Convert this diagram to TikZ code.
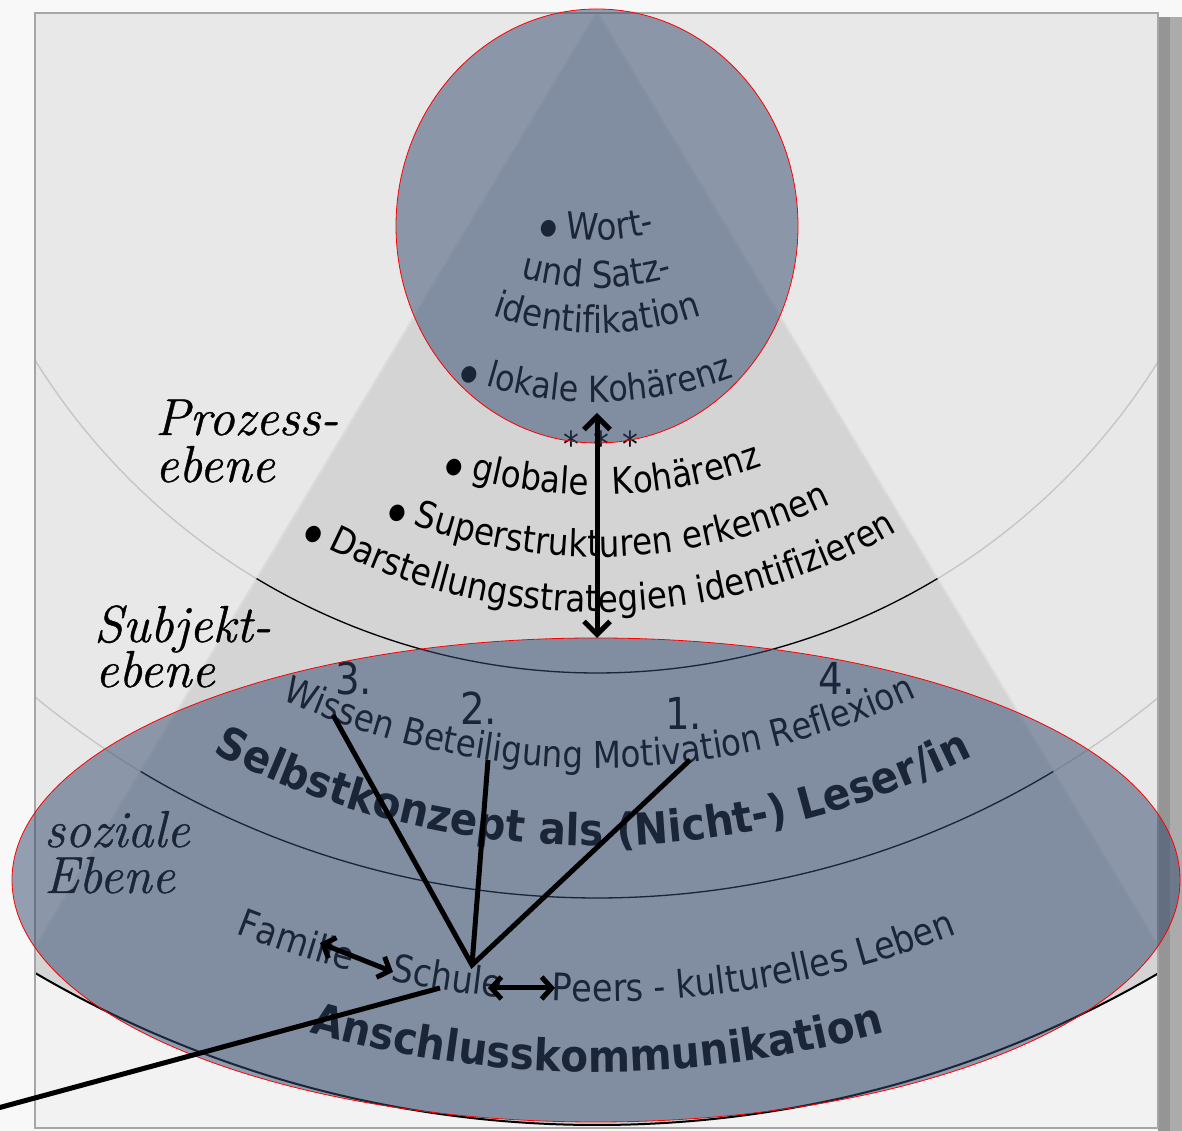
\documentclass[tikz,border=0pt]{standalone}
\usepackage{fontspec}
\usetikzlibrary{decorations.text,arrows.meta}
\newfontfamily\tah[FakeStretch=0.88]{DejaVu Sans}
\newfontfamily\tahB[FakeStretch=0.92]{DejaVu Sans}
\newfontfamily\camb[FakeBold=0.8]{Latin Modern Roman}
\definecolor{bgout}{HTML}{F8F8F8}
\definecolor{panelc}{HTML}{F2F2F2}
\definecolor{diskc}{HTML}{E8E8E8}
\definecolor{tric}{HTML}{D4D4D4}
\definecolor{arcgray}{HTML}{C6C6C6}
\definecolor{edgec}{HTML}{DCDCDC}
\definecolor{ov}{RGB}{51,73,110}
\definecolor{shadowA}{HTML}{959595}
\definecolor{shadowB}{HTML}{ABABAB}
\definecolor{pborder}{HTML}{A6A6A6}
\newcommand\arctxt[4]{\path[decorate,decoration={text along path,text align=center,text={#4}}] (A) ++({270+#2-#3}:#1pt) arc[start angle={270+#2-#3},end angle={270+#2+#3},radius=#1pt];}
\newcommand\bul{{\fontsize{22}{22}\selectfont ●}}
\tikzset{
  edgeline/.style={edgec,line width=2pt},
  conn/.style={black,line width=5pt},
  dbl/.style={black,line width=5pt,{Straight Barb[length=10pt,width=22pt]}-{Straight Barb[length=10pt,width=22pt]}},
  dblbig/.style={black,line width=5pt,{Straight Barb[length=13pt,width=26pt]}-{Straight Barb[length=13pt,width=26pt]}},
  lbl/.style={inner sep=0pt,anchor=base west,font=\camb\fontsize{52}{56}\selectfont\itshape},
  num/.style={inner sep=0pt,anchor=base west,font=\tah\fontsize{44}{48}\selectfont},
  overlay/.style={fill=ov,fill opacity=0.51,draw=red,line width=0.8pt}
}
\begin{document}
\begin{tikzpicture}[x=1pt,y=1pt]
\useasboundingbox (0,0) rectangle (1182,1131);
\fill[bgout] (0,0) rectangle (1182,1131);
% shadow
\fill[shadowB] (1158,0) rectangle (1182,1114);
\fill[shadowA] (1158,0) rectangle (1170,1114);
% panel
\fill[panelc] (35,3) rectangle (1158,1118);
\coordinate (A) at (597,1119);
\begin{scope}
  \clip (35,3) rectangle (1158,1118);
  \fill[diskc] (A) circle[radius=1113pt];
  \fill[tric] (A) -- ++(239:1113pt) arc[start angle=239,end angle=301,radius=1113pt] -- cycle;
  \draw[edgeline] (A) -- ++(239:1113pt);
  \draw[edgeline] (A) -- ++(301:1113pt);
  \draw[arcgray,line width=1.4pt] (A) circle[radius=661pt];
  \draw[arcgray,line width=1.4pt] (A) circle[radius=886pt];
  \draw[black,line width=1.3pt] (A) ++(239:661pt) arc[start angle=239,end angle=301,radius=661pt];
  \draw[black,line width=1.3pt] (A) ++(239:886pt) arc[start angle=239,end angle=301,radius=886pt];
  \draw[black,line width=2pt] (A) circle[radius=1113pt];
\end{scope}
\draw[pborder,line width=1.5pt] (35,3) rectangle (1158,1118);

% left labels
\node[lbl] (proz1) at (155,696) {Prozess-};
\node[lbl] (proz2) at (155,649) {ebene};
\node[lbl] (subj1) at (94,489) {Subjekt-};
\node[lbl] (subj2) at (95,444) {ebene};
\node[lbl] (soz1) at (44,284) {soziale};
\node[lbl] (soz2) at (44,238) {Ebene};

% circle texts
\arctxt{228}{0}{50}{|\tah\fontsize{37}{40}\selectfont|\bul\ Wort-}
\arctxt{276}{0}{50}{|\tah\fontsize{37}{40}\selectfont|und Satz-}
\arctxt{321}{0}{50}{|\tah\fontsize{37}{40}\selectfont|identifikation}
\arctxt{390}{0}{50}{|\tah\fontsize{36}{40}\selectfont|\bul\ lokale Kohärenz}
\node[inner sep=0pt,anchor=base,font=\tah\fontsize{36}{40}\selectfont] (stars) at (601,673) {*\hspace{14pt}*\hspace{14pt}*};

% triangle texts
\arctxt{483}{0.8}{50}{|\tah\fontsize{37}{40}\selectfont|\bul\ globale{\hspace{14pt}} Kohärenz}
\arctxt{545}{1.4}{50}{|\tah\fontsize{37}{40}\selectfont|\bul\ Superstrukturen erkennen}
\arctxt{600}{0.4}{50}{|\tah\fontsize{37}{40}\selectfont|\bul\ Darstellungsstrategien identifizieren}

% ellipse texts
\arctxt{756}{0.2}{50}{|\tah\fontsize{37}{40}\selectfont|Wissen Beteiligung Motivation Reflexion}
\arctxt{834}{-0.3}{50}{|\tahB\bfseries\fontsize{44}{48}\selectfont|Selbstkonzept als (Nicht-) Leser/in}
\arctxt{990}{-17.9}{10}{|\tah\fontsize{38}{40}\selectfont|Familie}
\arctxt{990}{-8.8}{10}{|\tah\fontsize{38}{40}\selectfont|Schule}
\arctxt{990}{9.35}{15}{|\tah\fontsize{38}{40}\selectfont|Peers - kulturelles Leben}
\arctxt{1060}{0}{25}{|\tahB\bfseries\fontsize{44}{48}\selectfont|Anschlusskommunikation}

% numbers
\node[num] (n3) at (335,436) {3.};
\node[num] (n2) at (460,406) {2.};
\node[num] (n1) at (665,401) {1.};
\node[num] (n4) at (818,436) {4.};

% overlays
\path[overlay] (597,905) ellipse[x radius=201pt,y radius=217pt];
\path[overlay] (596,251) ellipse[x radius=584pt,y radius=242pt];

% connectors
\coordinate (arrTop) at (597,718);
\coordinate (arrBot) at (597,493);
\draw[dblbig] (arrTop) -- (arrBot);
\coordinate (hub) at (472,166);
\coordinate (pWissen) at (333,416);
\coordinate (pBeteil) at (488,371);
\coordinate (pMotiv) at (690,371);
\draw[conn] (pWissen) -- (hub) -- (pMotiv);
\draw[conn] (hub) -- (pBeteil);
\coordinate (famR) at (320,188);
\coordinate (schL) at (393,159);
\draw[dbl] (famR) -- (schL);
\coordinate (schR) at (488,143);
\coordinate (peersL) at (555,143);
\draw[dbl] (schR) -- (peersL);
\coordinate (schB) at (440,143);
\coordinate (outL) at (-2,23);
\draw[conn] (schB) -- (outL);
\end{tikzpicture}
\end{document}
